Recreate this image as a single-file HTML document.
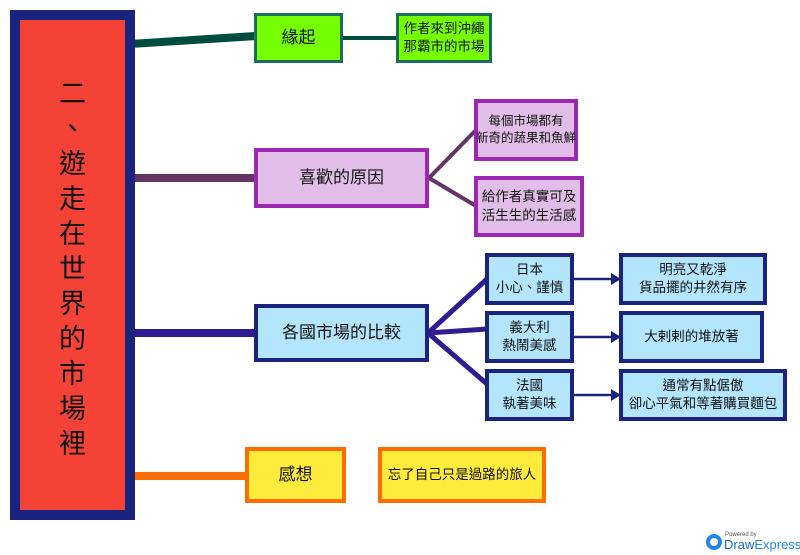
<!DOCTYPE html>
<html><head><meta charset="utf-8"><style>
body{margin:0;width:800px;height:555px;background:#fff;position:relative;overflow:hidden;font-family:"Liberation Sans","Noto Sans CJK TC",sans-serif;color:#111}
.b{position:absolute;box-sizing:border-box;display:flex;align-items:center;justify-content:center;text-align:center;line-height:1.35;white-space:nowrap}
svg{position:absolute;left:0;top:0}
.g{background:#76ff03;border:3px solid #1b6e5e}
.p{background:#e1bee7;border:4px solid #9c27b0}
.c{background:#b3e5fc;border:4px solid #1a237e}
.y{background:#ffeb3b;border:4px solid #ff6d00}
.l{font-size:17px}.s{font-size:13.5px}
</style></head><body>
<svg width="800" height="555">
<line x1="130" y1="44" x2="256" y2="36" stroke="#004d40" stroke-width="8"/>
<line x1="343" y1="38" x2="398" y2="38" stroke="#004d40" stroke-width="4"/>
<line x1="130" y1="178" x2="256" y2="178" stroke="#663366" stroke-width="8"/>
<line x1="429" y1="178" x2="476" y2="130" stroke="#663366" stroke-width="4"/>
<line x1="429" y1="178" x2="476" y2="206" stroke="#663366" stroke-width="4"/>
<line x1="130" y1="333" x2="256" y2="333" stroke="#311b92" stroke-width="8"/>
<line x1="428" y1="333" x2="487" y2="279" stroke="#311b92" stroke-width="5"/>
<line x1="428" y1="333" x2="487" y2="329" stroke="#311b92" stroke-width="5"/>
<line x1="428" y1="333" x2="487" y2="384" stroke="#311b92" stroke-width="5"/>
<g stroke="#1a237e" stroke-width="2.5">
<line x1="573" y1="279" x2="612" y2="279"/><line x1="573" y1="337" x2="612" y2="337"/><line x1="573" y1="395" x2="612" y2="395"/></g>
<g fill="#1a237e"><polygon points="621,279 611,273 611,285"/><polygon points="621,337 611,331 611,343"/><polygon points="621,395 611,389 611,401"/></g>
<line x1="130" y1="476" x2="247" y2="476" stroke="#ff6d00" stroke-width="8"/>
<circle cx="714" cy="542" r="8" fill="#1e88e5"/><circle cx="714" cy="542" r="4" fill="#fff"/>
<text x="725" y="536" font-size="6" fill="#555" font-family="Liberation Sans">Powered by</text>
<text x="724" y="549" font-size="13" fill="#1565c0" font-family="Liberation Sans">Draw<tspan fill="#1e88e5">Express</tspan></text>
</svg>
<div class="b" style="left:10px;top:10px;width:125px;height:510px;background:#f44336;border:10px solid #1a237e;flex-direction:column;font-size:27px;line-height:35px;padding-top:8px">
<span>二</span><span>、</span><span>遊</span><span>走</span><span>在</span><span>世</span><span>界</span><span>的</span><span>市</span><span>場</span><span>裡</span></div>
<div class="b g l" style="left:254px;top:13px;width:89px;height:50px">緣起</div>
<div class="b g s" style="left:396px;top:13px;width:96px;height:50px">作者來到沖繩<br>那霸市的市場</div>
<div class="b p l" style="left:254px;top:148px;width:175px;height:60px">喜歡的原因</div>
<div class="b p s" style="left:474px;top:99px;width:104px;height:62px;font-size:12.5px">每個市場都有<br>新奇的蔬果和魚鮮</div>
<div class="b p s" style="left:474px;top:176px;width:110px;height:61px">給作者真實可及<br>活生生的生活感</div>
<div class="b c l" style="left:254px;top:304px;width:175px;height:58px">各國市場的比較</div>
<div class="b c s" style="left:485px;top:253px;width:89px;height:52px">日本<br>小心、謹慎</div>
<div class="b c s" style="left:485px;top:311px;width:89px;height:52px">義大利<br>熱鬧美感</div>
<div class="b c s" style="left:485px;top:369px;width:89px;height:52px">法國<br>執著美味</div>
<div class="b c s" style="left:619px;top:253px;width:148px;height:52px">明亮又乾淨<br>貨品擺的井然有序</div>
<div class="b c s" style="left:619px;top:311px;width:145px;height:52px">大剌剌的堆放著</div>
<div class="b c s" style="left:619px;top:369px;width:168px;height:52px">通常有點倨傲<br>卻心平氣和等著購買麵包</div>
<div class="b y l" style="left:245px;top:447px;width:101px;height:56px">感想</div>
<div class="b y s" style="left:378px;top:447px;width:168px;height:56px">忘了自己只是過路的旅人</div>
</body></html>
